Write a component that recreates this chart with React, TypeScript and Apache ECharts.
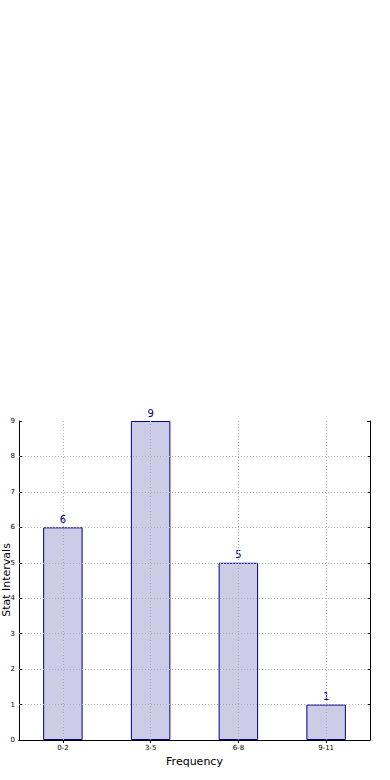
import React, { useEffect, useRef } from "react";
import * as echarts from "echarts";

const categories = ["0-2", "3-5", "6-8", "9-11"];
const frequencies = [6, 9, 5, 1];
const yTicks = [1, 2, 3, 4, 5, 6, 7, 8];
const xName = "Frequency";
const yName = "Stat Intervals";

export default function App() {
  const ref = useRef<HTMLDivElement>(null);
  useEffect(() => {
    if (!ref.current) return;
    const chart = echarts.init(ref.current, null, { renderer: "svg" });
    const font = "DejaVu Sans";
    const gridLine = { color: "#b0b0b0", type: [1, 2] as any, width: 1 };
    chart.setOption({
      animation: false,
      textStyle: { fontFamily: font },
      grid: { left: 19, right: 20, top: 421, bottom: 40, containLabel: false, outerBoundsMode: "none" },
      graphic: [
        {
          type: "text",
          x: 6,
          y: 580,
          rotation: Math.PI / 2,
          style: {
            text: yName,
            fontSize: 11,
            fontFamily: font,
            fill: "#000",
            align: "center",
            verticalAlign: "middle",
          },
        },
      ],
      xAxis: [
        {
          type: "category",
          data: categories,
          name: xName,
          nameLocation: "middle",
          nameGap: 16,
          nameTextStyle: { fontSize: 11, color: "#000", fontFamily: font },
          axisLine: { show: true, lineStyle: { color: "#000", width: 1 } },
          axisTick: { show: true, inside: true, alignWithLabel: true, length: 3, lineStyle: { color: "#000" } },
          axisLabel: { fontSize: 7, color: "#000", margin: 4, fontFamily: font },
          splitLine: { show: false },
        },
        {
          type: "category",
          data: categories,
          position: "top",
          axisLine: { show: true, lineStyle: { color: "#000", width: 1 } },
          axisTick: { show: true, inside: true, alignWithLabel: true, length: 3, lineStyle: { color: "#000" } },
          axisLabel: { show: false },
          splitLine: { show: false },
        },
      ],
      yAxis: [
        {
          type: "value",
          min: 0,
          max: 9,
          interval: 1,
          axisLine: { show: true, lineStyle: { color: "#000", width: 1 } },
          axisTick: { show: true, inside: true, length: 3, lineStyle: { color: "#000" } },
          axisLabel: { fontSize: 7, color: "#000", margin: 4, fontFamily: font },
          splitLine: { show: false },
        },
        {
          type: "value",
          min: 0,
          max: 9,
          interval: 1,
          position: "right",
          axisLine: { show: true, lineStyle: { color: "#000", width: 1 } },
          axisTick: { show: true, inside: true, length: 3, lineStyle: { color: "#000" } },
          axisLabel: { show: false },
          splitLine: { show: false },
        },
      ],
      series: [
        {
          type: "bar",
          data: frequencies,
          barWidth: "45%",
          itemStyle: { color: "#ccccE6", borderColor: "#000080", borderWidth: 1 },
          label: {
            show: true,
            position: "top",
            distance: 3,
            color: "#000080",
            fontSize: 10,
            fontFamily: font,
          },
          markLine: {
            silent: true,
            symbol: "none",
            label: { show: false },
            lineStyle: gridLine,
            data: [
              ...categories.map((c) => ({ xAxis: c })),
              ...yTicks.map((v) => ({ yAxis: v })),
            ],
          },
        },
      ],
    });
    return () => chart.dispose();
  }, []);
  return <div ref={ref} style={{ width: 390, height: 780, position: "absolute", left: 0, top: 0 }} />;
}
